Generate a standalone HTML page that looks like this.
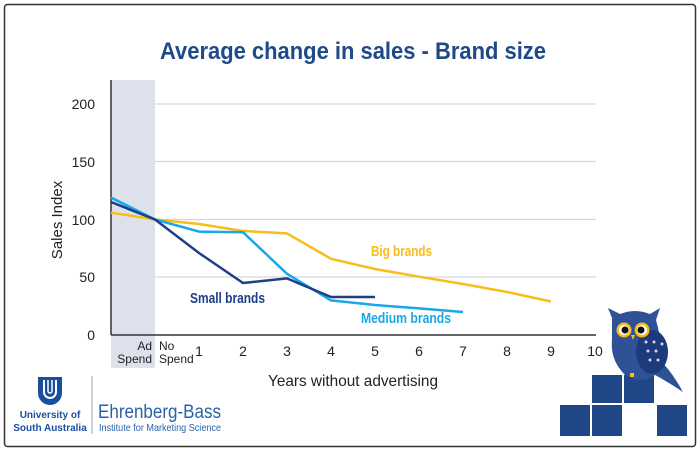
<!DOCTYPE html>
<html><head><meta charset="utf-8"><style>
html,body{margin:0;padding:0;background:#fff;}
svg{display:block;font-family:"Liberation Sans",sans-serif;}
</style></head><body>
<svg width="700" height="454" viewBox="0 0 700 454">
<rect x="4.5" y="4.5" width="691" height="442" rx="3" fill="#fff" stroke="#333" stroke-width="1.5"/>
<text x="160" y="59" font-size="24" font-weight="bold" fill="#1f4a8a" textLength="386" lengthAdjust="spacingAndGlyphs">Average change in sales - Brand size</text>
<rect x="111" y="80" width="44" height="288" fill="#dde1ec"/>
<g stroke="#d6d6d6" stroke-width="1.2">
<line x1="155" y1="104" x2="596" y2="104"/><line x1="155" y1="161.5" x2="596" y2="161.5"/>
<line x1="155" y1="219.5" x2="596" y2="219.5"/><line x1="155" y1="277" x2="596" y2="277"/>
</g>
<line x1="111" y1="80" x2="111" y2="335" stroke="#333" stroke-width="1.5"/>
<line x1="111" y1="335" x2="596" y2="335" stroke="#333" stroke-width="1.5"/>
<g font-size="14" fill="#222" text-anchor="end">
<text x="95" y="109">200</text><text x="95" y="167">150</text><text x="95" y="225">100</text><text x="95" y="282">50</text><text x="95" y="340">0</text>
</g>
<text transform="translate(62,220) rotate(-90)" text-anchor="middle" font-size="15" fill="#222">Sales Index</text>
<g font-size="12" fill="#222">
<text x="152" y="350" text-anchor="end">Ad</text><text x="152" y="363" text-anchor="end">Spend</text>
<text x="159" y="350">No</text><text x="159" y="363">Spend</text>
</g>
<g font-size="14" fill="#222" text-anchor="middle">
<text x="199" y="356">1</text><text x="243" y="356">2</text><text x="287" y="356">3</text><text x="331" y="356">4</text><text x="375" y="356">5</text><text x="419" y="356">6</text><text x="463" y="356">7</text><text x="507" y="356">8</text><text x="551" y="356">9</text><text x="595" y="356">10</text>
</g>
<text x="268" y="386" font-size="16" fill="#222" textLength="170" lengthAdjust="spacingAndGlyphs">Years without advertising</text>
<g fill="none" stroke-width="2.5" stroke-linejoin="round">
<polyline stroke="#f7bd1a" points="111,212.6 155,219.5 199,224 243,231 287,233.4 331,258.8 375,269 419,276.7 463,284 507,292 551,301.5"/>
<polyline stroke="#1aa7e8" points="111,197.6 155,219.5 199,231.6 243,232.2 287,273.8 331,300.4 375,305 419,308.4 463,312"/>
<polyline stroke="#1e3f86" points="111,202 155,219.5 199,253 243,283 287,278.4 331,297 375,297"/>
</g>
<text x="371" y="256" font-size="15" font-weight="bold" fill="#f7bd1a" textLength="61" lengthAdjust="spacingAndGlyphs">Big brands</text>
<text x="190" y="303" font-size="15" font-weight="bold" fill="#1e3f86" textLength="75" lengthAdjust="spacingAndGlyphs">Small brands</text>
<text x="361" y="323" font-size="15" font-weight="bold" fill="#1aa7e8" textLength="90" lengthAdjust="spacingAndGlyphs">Medium brands</text>
<path d="M38,377 h24 v16 a12,12 0 0 1 -24,0 z" fill="#1b4f9c"/>
<path d="M44,380 v12 a6,6 0 0 0 12,0 v-12" fill="none" stroke="#fff" stroke-width="2"/>
<path d="M48,380 v11 a2,2 0 0 0 4,0 v-11" fill="none" stroke="#fff" stroke-width="1.5"/>
<text x="50" y="418" text-anchor="middle" font-size="10" font-weight="bold" fill="#1b4f9c">University of</text>
<text x="50" y="431" text-anchor="middle" font-size="10" font-weight="bold" fill="#1b4f9c">South Australia</text>
<line x1="92" y1="376" x2="92" y2="434" stroke="#9ab" stroke-width="1"/>
<text x="98" y="418" font-size="19" fill="#2a62a8" textLength="123" lengthAdjust="spacingAndGlyphs">Ehrenberg-Bass</text>
<text x="99" y="431" font-size="10" fill="#2a62a8" textLength="122" lengthAdjust="spacingAndGlyphs">Institute for Marketing Science</text>
<g fill="#1f4686">
<rect x="592" y="375" width="30" height="28"/><rect x="624" y="375" width="30" height="28"/>
<rect x="560" y="405" width="30" height="31"/><rect x="592" y="405" width="30" height="31"/><rect x="657" y="405" width="30" height="31"/>
</g>
<g>
<path d="M612,318 L608,308 L620,314 Q635,308 650,314 L660,308 L656,320 Q662,340 660,360 Q672,372 683,392 Q668,382 655,375 Q640,385 625,375 Q610,360 612,340 Z" fill="#2f5297"/>
<ellipse cx="652" cy="352" rx="16" ry="22" fill="#1d3b7a"/>
<g fill="#cfd8ee"><circle cx="646" cy="342" r="1.5"/><circle cx="654" cy="342" r="1.5"/><circle cx="662" cy="344" r="1.5"/><circle cx="648" cy="351" r="1.5"/><circle cx="656" cy="351" r="1.5"/><circle cx="650" cy="360" r="1.5"/><circle cx="658" cy="360" r="1.5"/></g>
<circle cx="624" cy="330" r="7.5" fill="#f7bd1a"/><circle cx="642" cy="330" r="7.5" fill="#f7bd1a"/>
<circle cx="624" cy="330" r="5" fill="#fff"/><circle cx="642" cy="330" r="5" fill="#fff"/>
<circle cx="625" cy="330" r="3.5" fill="#111"/><circle cx="641" cy="330" r="3.5" fill="#111"/>
<path d="M631,335 l2,5 l2,-5z" fill="#f7bd1a"/>
<rect x="630" y="373" width="4" height="4" fill="#f7bd1a"/>
</g>
</svg>
</body></html>
